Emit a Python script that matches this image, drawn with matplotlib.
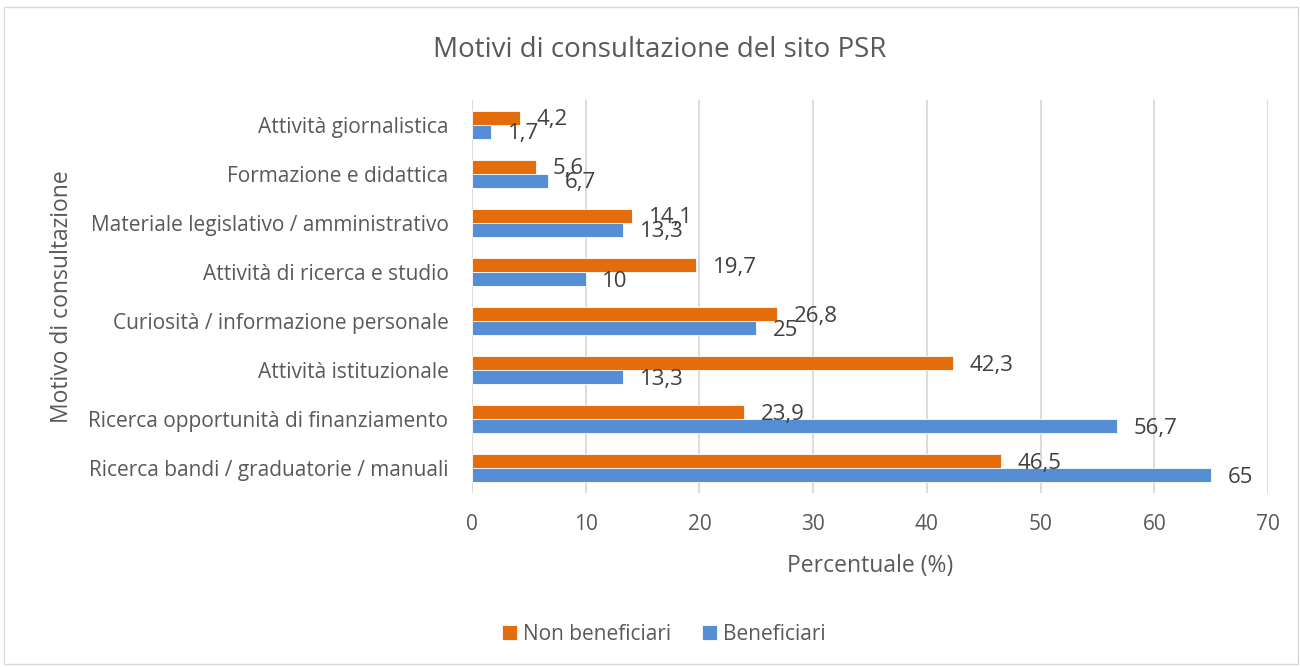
import matplotlib.pyplot as plt
import numpy as np

plt.rcParams['font.family'] = ['Open Sans', 'DejaVu Sans']

categories = ['Ricerca bandi / graduatorie / manuali',
              'Ricerca opportunità di finanziamento',
              'Attività istituzionale',
              'Curiosità / informazione personale',
              'Attività di ricerca e studio',
              'Materiale legislativo / amministrativo',
              'Formazione e didattica',
              'Attività giornalistica']
non_beneficiari = [46.5, 23.9, 42.3, 26.8, 19.7, 14.1, 5.6, 4.2]
beneficiari = [65, 56.7, 13.3, 25, 10, 13.3, 6.7, 1.7]
x_ticks = [0, 10, 20, 30, 40, 50, 60, 70]

orange = '#E46C0A'
blue = '#558ED5'
txt = '#595959'

fig = plt.figure(figsize=(13, 6.67), dpi=100)
ax = fig.add_axes([472/1300, 1-493/667, 796/1300, 393/667])

# chart border
fig.patches.append(plt.Rectangle((4/1300, 3/667), 1294/1300, 657/667, transform=fig.transFigure,
                                 fill=False, edgecolor='#d9d9d9', linewidth=1))

y = np.arange(len(categories))
h = 0.285
b1 = ax.barh(y + h/2, non_beneficiari, height=h, color=orange, edgecolor='white', linewidth=0.6,
             label='Non beneficiari', zorder=3)
b2 = ax.barh(y - h/2, beneficiari, height=h, color=blue, edgecolor='white', linewidth=0.6,
             label='Beneficiari', zorder=3)

def fmt(v):
    return ('%g' % v).replace('.', ',')

for bars, vals in [(b1, non_beneficiari), (b2, beneficiari)]:
    for bar, v in zip(bars, vals):
        ax.annotate(fmt(v), (v, bar.get_y() + bar.get_height()/2), xytext=(12, -1.5),
                    textcoords='offset points', va='center', ha='left', fontsize=16, color='#404040', zorder=4)

ax.set_xlim(0, 70)
ax.set_ylim(-0.5, len(categories) - 0.5)
ax.set_xticks(x_ticks)
ax.set_xticklabels([str(t) for t in x_ticks])
ax.set_yticks(y)
ax.set_yticklabels(categories)
ax.tick_params(axis='both', length=0, labelsize=15, colors=txt)
ax.tick_params(axis='x', pad=15)
ax.tick_params(axis='y', pad=17)
ax.grid(axis='x', color='#d9d9d9', linewidth=1.3, zorder=0)
for s in ax.spines.values():
    s.set_visible(False)

ax.set_xlabel('Percentuale (%)', fontsize=16.5, color=txt, labelpad=14)
fig.text(62/1300, 1-297/667, 'Motivo di consultazione', rotation=90, fontsize=16.5, color=txt,
         ha='center', va='center')
fig.text(660/1300, 1-50/667, 'Motivi di consultazione del sito PSR', fontsize=20, color=txt,
         ha='center', va='center')

handles = [b1, b2]
fig.legend(handles, ['Non beneficiari', 'Beneficiari'], loc='center', bbox_to_anchor=(664/1300, 1-634/667),
           ncol=2, frameon=False, fontsize=15, labelcolor=txt, handlelength=0.7, handleheight=0.7,
           handletextpad=0.3, columnspacing=1.5)

fig.savefig('out.png', dpi=100)
